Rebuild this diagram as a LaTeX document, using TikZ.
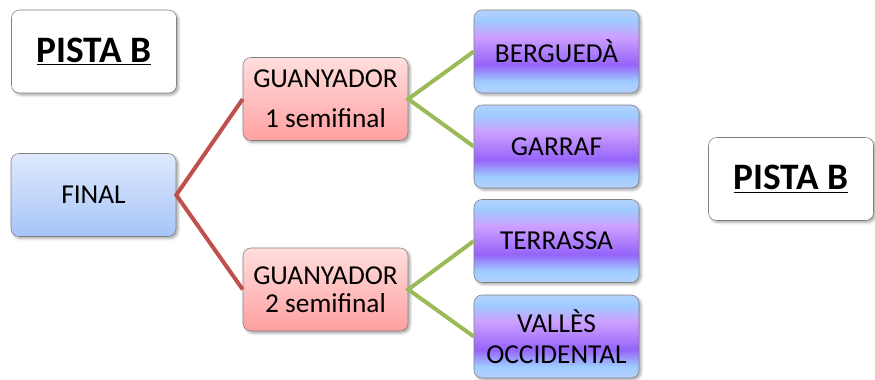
\documentclass[tikz,border=0pt]{standalone}
\usepackage{fontspec}
\setmainfont{Carlito}
\usepackage{tikz}
\usetikzlibrary{shadows.blur}

\definecolor{boxline}{RGB}{128,128,128}
\definecolor{redline}{RGB}{192,80,77}
\definecolor{greenline}{RGB}{155,187,89}
\definecolor{lilaclt}{RGB}{204,160,255}
\definecolor{lilacdp}{RGB}{150,100,250}
\definecolor{skylt}{RGB}{158,204,255}
\definecolor{skybt}{RGB}{180,210,255}
\pgfdeclareverticalshading{lilacband}{100bp}{color(0bp)=(skybt); color(25bp)=(skybt); color(32bp)=(skylt); color(42bp)=(lilacdp); color(59bp)=(lilaclt); color(69bp)=(skylt); color(75bp)=(skybt); color(100bp)=(skybt)}

\tikzset{
  box/.style={draw=boxline, rounded corners=6pt, minimum width=123.75pt, minimum height=62.25pt, align=center, inner sep=0.75pt, font=\fontsize{20.5}{28}\selectfont, blur shadow={shadow xshift=1.5pt, shadow yshift=-1.5pt, shadow blur steps=4, shadow opacity=35}},
  titlebox/.style={box, fill=white, font=\fontsize{28}{32}\selectfont\bfseries},
  finalbox/.style={box, top color={rgb,255:red,222;green,233;blue,251}, bottom color={rgb,255:red,166;green,196;blue,248}},
  semibox/.style={box, top color={rgb,255:red,255;green,222;blue,222}, bottom color={rgb,255:red,255;green,160;blue,160}},
  teambox/.style={box, shading=lilacband},
  redlink/.style={draw=redline, line width=3pt},
  greenlink/.style={draw=greenline, line width=3pt}
}

\begin{document}
\begin{tikzpicture}[x=0.75pt,y=0.75pt,yscale=-1,xscale=1]
\useasboundingbox (0,0) rectangle (875,379);

% Titles
\node [titlebox] (pistaleft) at (94,51.5) {\underline{PISTA B}};
\node [titlebox] (pistaright) at (791,179) {\underline{PISTA B}};

% Final and semifinals
\node [finalbox] (final) at (93.5,195) {FINAL};
\node [semibox, font=\fontsize{20.5}{30}\selectfont] (semione) at (325.5,99) {GUANYADOR\\1 semifinal};
\node [semibox, font=\fontsize{20.5}{21}\selectfont] (semitwo) at (325.5,289.5) {GUANYADOR\\2 semifinal};

% Teams
\node [teambox] (bergueda) at (556.5,51.5) {BERGUEDÀ};
\node [teambox] (garraf) at (556.5,146.5) {GARRAF};
\node [teambox] (terrassa) at (556.5,241) {TERRASSA};
\node [teambox, font=\fontsize{20.5}{23}\selectfont] (valles) at (556.5,336.5) {VALLÈS\\OCCIDENTAL};

% Links
\draw [redlink] (semione.west) -- (final.east) -- (semitwo.west);
\draw [greenlink] (bergueda.west) -- (semione.east) -- (garraf.west);
\draw [greenlink] (terrassa.west) -- (semitwo.east) -- (valles.west);

\end{tikzpicture}
\end{document}
